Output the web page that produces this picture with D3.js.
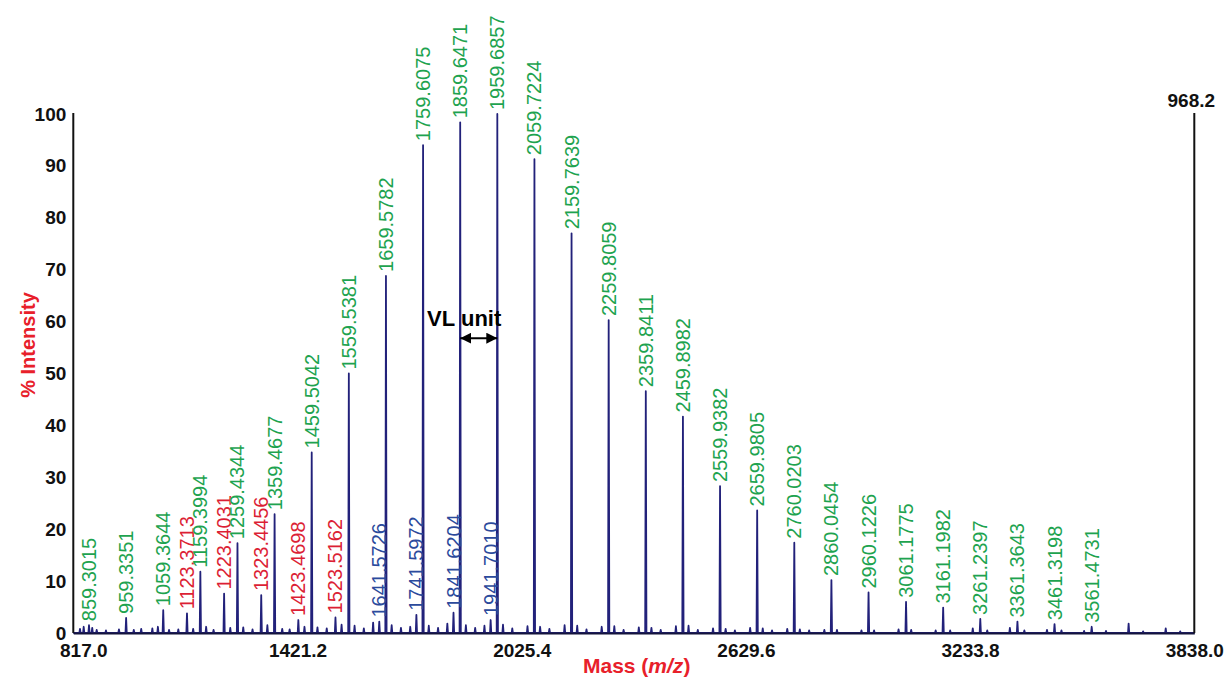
<!DOCTYPE html>
<html>
<head>
<meta charset="utf-8">
<script src="https://cdn.jsdelivr.net/npm/d3@7"></script>
<style>
body { margin: 0; background: #fff; }
text { font-family: "Liberation Sans", Arial, sans-serif; }
</style>
</head>
<body>
<div id="chart-area"></div>
<script>
// main series (100 m/z apart), labelled in green
var greenMz = [859.3015, 959.3351, 1059.3644, 1159.3994, 1259.4344, 1359.4677, 1459.5042, 1559.5381,
    1659.5782, 1759.6075, 1859.6471, 1959.6857, 2059.7224, 2159.7639, 2259.8059, 2359.8411,
    2459.8982, 2559.9382, 2659.9805, 2760.0203, 2860.0454, 2960.1226, 3061.1775, 3161.1982,
    3261.2397, 3361.3643, 3461.3198, 3561.4731];
var greenInt = [1.5, 2.9, 4.4, 11.8, 17.3, 22.9, 34.8, 50.0,
    68.8, 94.0, 98.4, 100, 91.3, 77.0, 60.3, 46.6,
    41.7, 28.3, 23.6, 17.4, 10.2, 7.8, 6.0, 4.9,
    2.7, 2.2, 1.7, 1.2];

// second series, labelled in red
var redMz = [1123.3713, 1223.4031, 1323.4456, 1423.4698, 1523.5162];
var redInt = [3.8, 7.6, 7.3, 2.5, 3.0];

// third series, labelled in blue
var blueMz = [1641.5726, 1741.5972, 1841.6204, 1941.7010];
var blueInt = [2.2, 3.5, 3.9, 2.5];

// unlabelled small peaks / noise
var minorMz = [835, 845, 868, 880, 905, 940, 980, 1000, 1030, 1045, 1075, 1100, 1140, 1175, 1195,
    1240, 1275, 1300, 1340, 1380, 1400, 1440, 1475, 1500, 1540, 1575, 1600, 1625, 1675, 1700,
    1725, 1775, 1800, 1825, 1875, 1900, 1925, 1975, 2000, 2041, 2075, 2100, 2141, 2175, 2200,
    2241, 2275, 2300, 2341, 2375, 2400, 2441, 2475, 2500, 2541, 2575, 2600, 2641, 2675, 2700,
    2741, 2775, 2800, 2841, 2875, 2941, 2975, 3041, 3075, 3141, 3180, 3241, 3280, 3341, 3380,
    3441, 3480, 3541, 3600, 3661, 3700, 3761, 3800];
var minorInt = [0.8, 1.2, 1.0, 0.6, 0.5, 0.7, 0.6, 0.8, 0.9, 1.2, 0.6, 0.7, 0.8, 1.2, 0.6,
    1.0, 1.1, 0.7, 1.5, 0.8, 0.7, 1.2, 1.1, 0.9, 1.6, 1.4, 0.9, 2.0, 1.5, 1.0,
    1.2, 1.4, 1.0, 1.8, 1.5, 1.0, 1.4, 1.6, 0.9, 1.3, 1.2, 0.8, 1.5, 1.4, 0.7,
    1.2, 1.3, 0.6, 1.1, 1.0, 0.6, 1.3, 1.4, 0.6, 0.9, 0.8, 0.5, 1.0, 0.9, 0.5,
    0.8, 0.7, 0.5, 0.6, 0.6, 0.5, 0.5, 0.7, 0.6, 0.5, 0.5, 0.9, 0.5, 1.0, 0.5,
    0.6, 0.5, 0.4, 0.4, 1.8, 0.3, 0.9, 0.3];

var xTicks = [817.0, 1421.2, 2025.4, 2629.6, 3233.8, 3838.0];
var yTicks = [0, 10, 20, 30, 40, 50, 60, 70, 80, 90, 100];
var basePeak = "968.2";
var vlFrom = 1859.6471, vlTo = 1959.6857;

var width = 1227, height = 678;
var peakColor = "#22217a";
var colors = { green: "#1ea34f", red: "#dc1f35", blue: "#2b4a9c" };

var svg = d3.select("#chart-area")
    .append("svg")
    .attr("width", width)
    .attr("height", height);

var x = d3.scaleLinear().domain([817, 3838]).range([73.3, 1194.3]);
var y = d3.scaleLinear().domain([0, 100]).range([633, 114]);

// all peaks together for the spectrum trace
var peaks = [];
greenMz.forEach((m, i) => peaks.push({ mz: m, v: greenInt[i], c: "green" }));
redMz.forEach((m, i) => peaks.push({ mz: m, v: redInt[i], c: "red" }));
blueMz.forEach((m, i) => peaks.push({ mz: m, v: blueInt[i], c: "blue" }));
minorMz.forEach((m, i) => peaks.push({ mz: m, v: minorInt[i], c: null }));
peaks.sort((a, b) => a.mz - b.mz);

var pts = [[817, 0]];
peaks.forEach(p => {
    pts.push([p.mz - 1.7, 0], [p.mz, p.v], [p.mz + 1.7, 0]);
});
pts.push([3838, 0]);

var line = d3.line().x(d => x(d[0])).y(d => y(d[1]));

svg.append("path")
    .attr("d", line(pts))
    .attr("fill", peakColor)
    .attr("stroke", peakColor)
    .attr("stroke-width", 1.8)
    .attr("stroke-linejoin", "round");

// left axis
var yAxis = svg.append("g")
    .attr("transform", "translate(" + x(817) + ",0)")
    .call(d3.axisLeft(y).tickValues(yTicks).tickSize(0).tickSizeOuter(0).tickPadding(7));
yAxis.select(".domain").attr("stroke", "#111").attr("stroke-width", 2)
    .attr("d", "M0," + y(0) + "V" + (y(100) - 1));
yAxis.selectAll("text")
    .attr("font-size", "19px").attr("font-weight", "bold").attr("fill", "#111");

// bottom axis
var xAxis = svg.append("g")
    .attr("transform", "translate(0," + y(0) + ")")
    .call(d3.axisBottom(x).tickValues(xTicks).tickFormat(d3.format(".1f")).tickSize(0).tickSizeOuter(0).tickPadding(11));
xAxis.select(".domain").attr("stroke", "#14143c").attr("stroke-width", 2);
xAxis.selectAll("text")
    .attr("font-size", "19px").attr("font-weight", "bold").attr("fill", "#111")
    .attr("dx", (d, i) => i == 0 ? 10 : 0);

// right frame line with absolute intensity of the base peak
svg.append("line")
    .attr("x1", x(3838)).attr("x2", x(3838))
    .attr("y1", y(100) - 1).attr("y2", y(0))
    .attr("stroke", "#111").attr("stroke-width", 2);
svg.append("text")
    .attr("x", x(3838) - 3).attr("y", y(100) - 7)
    .attr("text-anchor", "middle")
    .attr("font-size", "19px").attr("font-weight", "bold").attr("fill", "#111")
    .text(basePeak);

// peak labels
var fmt = d3.format(".4f");
svg.selectAll(".plabel")
    .data(peaks.filter(p => p.c))
    .enter()
    .append("text")
    .attr("class", "plabel")
    .attr("transform", d => "translate(" + x(d.mz) + "," + (y(d.v) - 4) + ") rotate(-90)")
    .attr("dy", "0.35em")
    .attr("font-size", "20px")
    .attr("fill", d => colors[d.c])
    .text(d => fmt(d.mz));

// VL unit annotation
var defs = svg.append("defs");
defs.append("marker")
    .attr("id", "arr")
    .attr("viewBox", "0 0 10 10")
    .attr("refX", 10).attr("refY", 5)
    .attr("markerWidth", 11).attr("markerHeight", 11)
    .attr("markerUnits", "userSpaceOnUse")
    .attr("orient", "auto-start-reverse")
    .append("path").attr("d", "M0,0L10,5L0,10Z").attr("fill", "#000");

svg.append("line")
    .attr("x1", x(vlFrom)).attr("x2", x(vlTo))
    .attr("y1", y(56.8)).attr("y2", y(56.8))
    .attr("stroke", "#000").attr("stroke-width", 2)
    .attr("marker-start", "url(#arr)").attr("marker-end", "url(#arr)");

svg.append("text")
    .attr("x", x(vlFrom) + 4).attr("y", y(59.2))
    .attr("text-anchor", "middle")
    .attr("font-size", "22px").attr("font-weight", "bold").attr("fill", "#000")
    .text("VL unit");

// axis titles
svg.append("text")
    .attr("transform", "translate(28,345) rotate(-90)")
    .attr("text-anchor", "middle")
    .attr("dy", "0.35em")
    .attr("font-size", "20px").attr("font-weight", "bold").attr("fill", "#e8202a")
    .text("% Intensity");

var xt = svg.append("text")
    .attr("x", 636.7).attr("y", 673)
    .attr("text-anchor", "middle")
    .attr("font-size", "21px").attr("font-weight", "bold").attr("fill", "#e8202a");
xt.append("tspan").text("Mass (");
xt.append("tspan").attr("font-style", "italic").text("m/z");
xt.append("tspan").text(")");
</script>
</body>
</html>
